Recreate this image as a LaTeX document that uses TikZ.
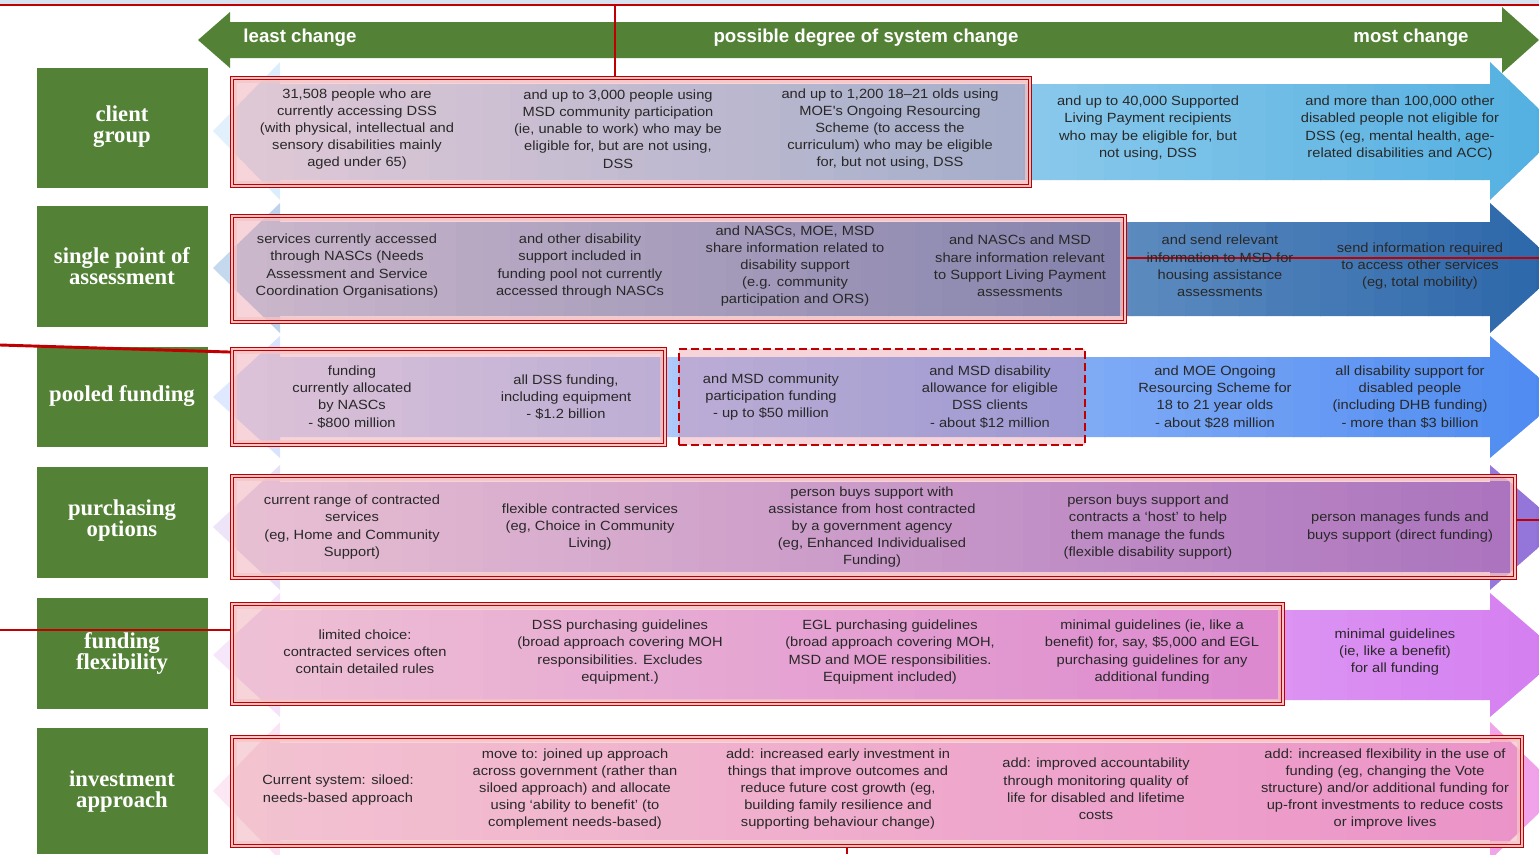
\documentclass[tikz,border=0pt]{standalone}
\usepackage{fontspec}
\setmainfont{Liberation Sans}
\newfontfamily\rowfont{Liberation Serif}
\newfontfamily\cellfont[FakeStretch=1.1]{Liberation Sans}
\usepackage{xcolor}
\usetikzlibrary{fit}

\definecolor{hdrgreen}{RGB}{83,129,53}
\definecolor{boxred}{RGB}{192,0,0}
\definecolor{boxpink}{RGB}{246,196,196}
\definecolor{veil}{RGB}{224,112,128}
\definecolor{txtgray}{RGB}{40,40,40}
\definecolor{topstrip}{RGB}{214,226,240}
\definecolor{cgL}{RGB}{226,240,252}
\definecolor{cgR}{RGB}{79,174,224}
\definecolor{spL}{RGB}{196,216,238}
\definecolor{spR}{RGB}{40,100,168}
\definecolor{pfL}{RGB}{222,232,255}
\definecolor{pfR}{RGB}{74,136,240}
\definecolor{poL}{RGB}{237,228,248}
\definecolor{poR}{RGB}{144,112,216}
\definecolor{ffL}{RGB}{246,230,250}
\definecolor{ffR}{RGB}{212,124,240}
\definecolor{iaL}{RGB}{252,232,244}
\definecolor{iaR}{RGB}{240,160,232}

\tikzset{
  rowlabel/.style={fill=hdrgreen, inner sep=0pt},
  labeltext/.style={text=white, align=center, font=\rowfont\bfseries\fontsize{17}{15.8}\selectfont},
  hdrtext/.style={text=white, font=\bfseries\fontsize{14}{16}\selectfont},
  cell/.style={align=center, text=txtgray, font=\cellfont\fontsize{10}{12.9}\selectfont},
  redbox/.style={draw=boxred, line width=1.4pt, double=boxpink, double distance=0.9pt,
    fill=veil, fill opacity=0.3, inner sep=0pt},
  dashbox/.style={draw=boxred, line width=2pt, dash pattern=on 6pt off 3pt,
    fill=veil, fill opacity=0.3, inner sep=0pt},
  palestrip/.style={draw=boxpink, line width=2.5pt, draw opacity=0.75},
  redline/.style={draw=boxred, line width=2.2pt}
}

\begin{document}
\begin{tikzpicture}[x=0.75pt, y=-0.75pt]
\tikzstyle{every node}+=[inner sep=0pt]
\useasboundingbox (0,0) rectangle (1539,854);
\clip (0,0) rectangle (1539,854);
\fill[topstrip] (0,0) rectangle (1539,5);

\foreach \c/\ht/\hb/\bt/\bb/\lc/\rc in {131/62/200/84/180/cgL/cgR, 268/203/333/222/316/spL/spR,
    397/336/458/357/437/pfL/pfR, 527/465/590/482/572/poL/poR,
    655/593/717/610/700/ffL/ffR, 791/722/860/743/840/iaL/iaR}{
  \begin{scope}
    \clip (213,\c) -- (280,\ht) -- (280,\bt) -- (1490,\bt) -- (1490,\ht) -- (1562,\c)
      -- (1490,\hb) -- (1490,\bb) -- (280,\bb) -- (280,\hb) -- cycle;
    \foreach \i in {0,...,49}{
      \pgfmathtruncatemacro\p{2*\i}
      \fill[\rc!\p!\lc] (213+\i*27,\ht-2) rectangle (241+\i*27,\hb+2);
    }
  \end{scope}
}

\fill[hdrgreen] (198,40) -- (230,12) -- (230,22) -- (1502,22) -- (1502,7) -- (1539,40)
  -- (1502,73) -- (1502,58) -- (230,58) -- (230,68) -- cycle;
\node[hdrtext] (least) at (300,38) {least change};
\node[hdrtext] (possible) at (866,38) {possible degree of system change};
\node[hdrtext] (most) at (1411,38) {most change};

\node[rowlabel, fit={(37,68) (208,188)}] (cglabel) {};
\node[rowlabel, fit={(37,206) (208,327)}] (splabel) {};
\node[rowlabel, fit={(37,347) (208,447)}] (pflabel) {};
\node[rowlabel, fit={(37,467) (208,578)}] (polabel) {};
\node[rowlabel, fit={(37,598) (208,709)}] (fflabel) {};
\node[rowlabel, fit={(37,728) (208,854)}] (ialabel) {};
\node[labeltext] (cgtext) at (122,127) {client\\group};
\node[labeltext] (sptext) at (122,266) {single point of\\assessment};
\node[labeltext] (pftext) at (122,396) {pooled funding};
\node[labeltext] (potext) at (122,521) {purchasing\\options};
\node[labeltext] (fftext) at (122,653) {funding\\flexibility};
\node[labeltext] (iatext) at (122,792) {investment\\approach};

\node[redbox, fit={(232,78) (1030,186)}] (cgbox) {};
\node[redbox, fit={(232,216) (1125,322)}] (spbox) {};
\node[redbox, fit={(232,349) (665,445)}] (pfboxA) {};
\node[dashbox, fit={(679,349) (1085,445)}] (pfboxB) {};
\node[redbox, fit={(232,476) (1515,578)}] (pobox) {};
\node[redbox, fit={(232,604) (1283,704)}] (ffbox) {};
\node[redbox, fit={(232,737) (1522,846)}] (iabox) {};
\foreach \b in {cgbox,spbox,pfboxA,pobox,ffbox,iabox}
  \draw[palestrip] ([shift={(3.5pt,-3.5pt)}]\b.north west) rectangle ([shift={(-3.5pt,3.5pt)}]\b.south east);

\coordinate (topL) at (0,5);
\coordinate (topR) at (1539,5);
\coordinate (topdrop) at (615,5);
\coordinate (pfin) at (0,345);
\coordinate (spout) at (1539,258);
\coordinate (poout) at (1539,520);
\coordinate (ffin) at (0,630);
\coordinate (iadrop) at (847,854);
\draw[redline] (topL) -- (topR);
\draw[redline] (topdrop) -- (topdrop |- cgbox.north);
\draw[redline] (pfin) -- ([yshift=-3pt]pfboxA.north west);
\draw[redline] (spbox.east |- spout) -- (spout);
\draw[redline] (pobox.east |- poout) -- (poout);
\draw[redline] (ffin) -- (ffbox.west |- ffin);
\draw[redline] (iabox.south -| iadrop) -- (iadrop);

\node[cell] (cg1) at (357,129) {31,508 people who are\\currently accessing DSS\\(with physical, intellectual and\\sensory disabilities mainly\\aged under 65)};
\node[cell] (cg2) at (618,129) {and up to 3,000 people using\\MSD community participation\\(ie, unable to work) who may be\\eligible for, but are not using,\\DSS};
\node[cell] (cg3) at (890,129) {and up to 1,200 18–21 olds using\\MOE's Ongoing Resourcing\\Scheme (to access the\\curriculum) who may be eligible\\for, but not using, DSS};
\node[cell] (cg4) at (1148,128) {and up to 40,000 Supported\\Living Payment recipients\\who may be eligible for, but\\not using, DSS};
\node[cell] (cg5) at (1400,128) {and more than 100,000 other\\disabled people not eligible for\\DSS (eg, mental health, age-\\related disabilities and ACC)};

\node[cell] (sp1) at (347,266) {services currently accessed\\through NASCs (Needs\\Assessment and Service\\Coordination Organisations)};
\node[cell] (sp2) at (580,266) {and other disability\\support included in\\funding pool not currently\\accessed through NASCs};
\node[cell] (sp3) at (795,266) {and NASCs, MOE, MSD\\share information related to\\disability support\\(e.g. community\\participation and ORS)};
\node[cell] (sp4) at (1020,266) {and NASCs and MSD\\share information relevant\\to Support Living Payment\\assessments};
\node[cell] (sp5) at (1220,266) {and send relevant\\information to MSD for\\housing assistance\\assessments};
\node[cell] (sp6) at (1420,266) {send information required\\to access other services\\(eg, total mobility)};

\node[cell] (pf1) at (352,397) {funding\\currently allocated\\by NASCs\\- \$800 million};
\node[cell] (pf2) at (566,397) {all DSS funding,\\including equipment\\- \$1.2 billion};
\node[cell] (pf3) at (771,397) {and MSD community\\participation funding\\- up to \$50 million};
\node[cell] (pf4) at (990,397) {and MSD disability\\allowance for eligible\\DSS clients\\- about \$12 million};
\node[cell] (pf5) at (1215,397) {and MOE Ongoing\\Resourcing Scheme for\\18 to 21 year olds\\- about \$28 million};
\node[cell] (pf6) at (1410,397) {all disability support for\\disabled people\\(including DHB funding)\\- more than \$3 billion};

\node[cell] (po1) at (352,527) {current range of contracted\\services\\(eg, Home and Community\\Support)};
\node[cell] (po2) at (590,527) {flexible contracted services\\(eg, Choice in Community\\Living)};
\node[cell] (po3) at (872,527) {person buys support with\\assistance from host contracted\\by a government agency\\(eg, Enhanced Individualised\\Funding)};
\node[cell] (po4) at (1148,527) {person buys support and\\contracts a ‘host’ to help\\them manage the funds\\(flexible disability support)};
\node[cell] (po5) at (1400,527) {person manages funds and\\buys support (direct funding)};

\node[cell] (ff1) at (365,652) {limited choice:\\contracted services often\\contain detailed rules};
\node[cell] (ff2) at (620,652) {DSS purchasing guidelines\\(broad approach covering MOH\\responsibilities. Excludes\\equipment.)};
\node[cell] (ff3) at (890,652) {EGL purchasing guidelines\\(broad approach covering MOH,\\MSD and MOE responsibilities.\\Equipment included)};
\node[cell] (ff4) at (1152,652) {minimal guidelines (ie, like a\\benefit) for, say, \$5,000 and EGL\\purchasing guidelines for any\\additional funding};
\node[cell] (ff5) at (1395,652) {minimal guidelines\\(ie, like a benefit)\\for all funding};

\node[cell] (ia1) at (338,790) {Current system: siloed:\\needs-based approach};
\node[cell] (ia2) at (575,789) {move to: joined up approach\\across government (rather than\\siloed approach) and allocate\\using ‘ability to benefit’ (to\\complement needs-based)};
\node[cell] (ia3) at (838,789) {add: increased early investment in\\things that improve outcomes and\\reduce future cost growth (eg,\\building family resilience and\\supporting behaviour change)};
\node[cell] (ia4) at (1096,789) {add: improved accountability\\through monitoring quality of\\life for disabled and lifetime\\costs};
\node[cell] (ia5) at (1385,789) {add: increased flexibility in the use of\\funding (eg, changing the Vote\\structure) and/or additional funding for\\up-front investments to reduce costs\\or improve lives};
\end{tikzpicture}
\end{document}
